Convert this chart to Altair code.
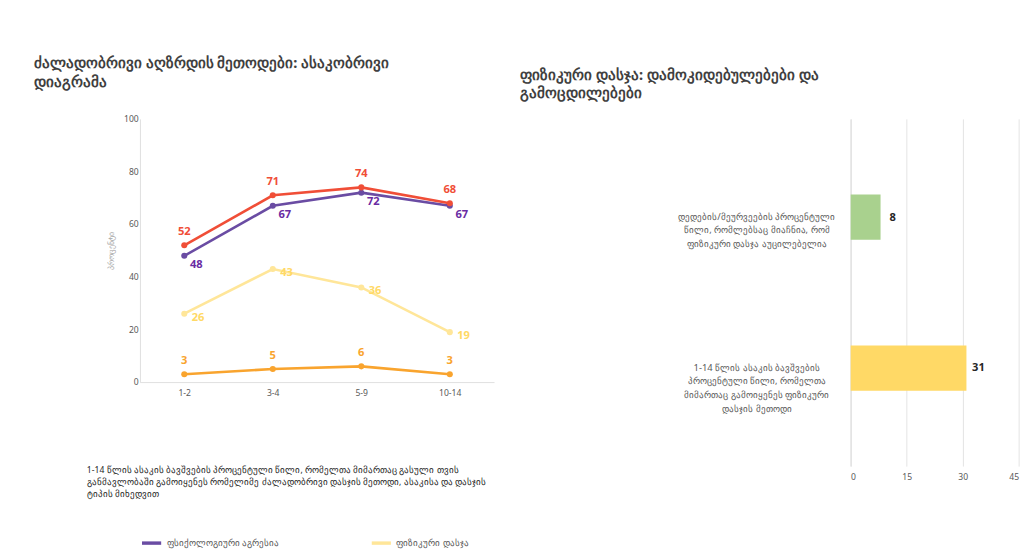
import altair as alt
import pandas as pd

ages = ["1-2", "3-4", "5-9", "10-14"]
series = ["ფსიქოლოგიური აგრესია", "ფიზიკური დასჯა", "მკაცრი ფიზიკური დასჯა", "ნებისმიერი ძალადობრივი მეთოდი"]
psych = [48, 67, 72, 67]
phys = [26, 43, 36, 19]
severe = [3, 5, 6, 3]
anyv = [52, 71, 74, 68]
colors = ["#6A4CA3", "#FFE699", "#F9A42E", "#F04E37"]
label_colors = ["#6A2CA3", "#FFD966", "#F9A42E", "#F04E37"]

bar_cats = ["დედების/მეურვეების პროცენტული\nწილი, რომლებსაც მიაჩნია, რომ\nფიზიკური დასჯა აუცილებელია",
            "1-14 წლის ასაკის ბავშვების\nპროცენტული წილი, რომელთა\nმიმართაც გამოიყენეს ფიზიკური\nდასჯის მეთოდი"]
bar_vals = [8, 31]
bar_colors = ["#A9D18E", "#FFD966"]

note_lines = ["1-14 წლის ასაკის ბავშვების პროცენტული წილი, რომელთა მიმართაც გასული თვის",
              "განმავლობაში გამოიყენეს რომელიმე ძალადობრივი დასჯის მეთოდი, ასაკისა და დასჯის",
              "ტიპის მიხედვით"]

rows = []
for s, vals in zip(series, [psych, phys, severe, anyv]):
    for a, v in zip(ages, vals):
        rows.append({"age": a, "series": s, "value": v})
df = pd.DataFrame(rows)

font = "Noto Sans"
xenc = alt.X("age:N", sort=ages, title=None,
             axis=alt.Axis(labelAngle=0, labelColor="#595959", domainColor="#d9d9d9", ticks=False, labelPadding=8))
yenc = alt.Y("value:Q", scale=alt.Scale(domain=[0, 100]), title="პროცენტი",
             axis=alt.Axis(values=[0, 20, 40, 60, 80, 100], grid=False, domainColor="#d9d9d9", ticks=False,
                           labelColor="#595959", titleColor="#a6a6a6", titleFontWeight="normal", titleFontSize=9, titlePadding=10))
cenc = alt.Color("series:N", sort=series, scale=alt.Scale(domain=series, range=colors),
                 legend=alt.Legend(orient="bottom", columns=2, title=None, symbolType="stroke", symbolStrokeWidth=4,
                                   symbolSize=500, labelFontSize=10, labelColor="#595959", columnPadding=110,
                                   rowPadding=10, labelLimit=300, offset=38))

base = alt.Chart(df).encode(x=xenc, y=yenc, color=cenc)
lines = base.mark_line(strokeWidth=3, point=alt.OverlayMarkDef(size=50, filled=True))

def lab(sname, dx, dy, col):
    return alt.Chart(df[df.series == sname]).mark_text(dx=dx, dy=dy, fontWeight="bold", fontSize=13, color=col, font=font).encode(
        x=alt.X("age:N", sort=ages), y="value:Q", text="value:Q")

note = alt.Chart(pd.DataFrame({"t": [note_lines]})).mark_text(
    align="left", baseline="top", fontSize=10, color="#262626", font=font, lineHeight=14).encode(
    x=alt.value(-62), y=alt.value(405), text="t")

left = alt.layer(lines,
                 lab(series[3], 0, -16, label_colors[3]),
                 lab(series[0], 14, 10, label_colors[0]),
                 lab(series[1], 16, 4, label_colors[1]),
                 lab(series[2], 0, -16, label_colors[2]),
                 note).properties(
    width=413, height=307,
    title=alt.TitleParams(["ძალადობრივი აღზრდის მეთოდები: ასაკობრივი", "დიაგრამა"], anchor="start", fontSize=17,
                          fontWeight="bold", color="#404040", font=font, offset=28, lineHeight=22, dx=-62))

bdf = pd.DataFrame({"cat": bar_cats, "value": bar_vals, "col": bar_colors})
bb = alt.Chart(bdf).encode(
    y=alt.Y("cat:N", sort=bar_cats, title=None, scale=alt.Scale(paddingInner=0.7, paddingOuter=0.5),
            axis=alt.Axis(labelExpr="split(datum.label, '\\n')", ticks=False, domainColor="#d9d9d9", labelAlign="center",
                          labelPadding=110, labelFontSize=11, labelColor="#595959", labelLimit=300, labelLineHeight=16)),
    x=alt.X("value:Q", scale=alt.Scale(domain=[0, 45]), title=None,
            axis=alt.Axis(values=[0, 15, 30, 45], grid=True, gridColor="#e0e0e0", domain=False, ticks=False,
                          labelColor="#595959", labelPadding=8)))
bars = bb.mark_bar().encode(color=alt.Color("col:N", scale=None, legend=None))
btxt = bb.mark_text(dx=14, fontWeight="bold", fontSize=13, color="#262626", font=font).encode(text="value:Q")
right = alt.layer(bars, btxt).properties(
    width=196, height=405,
    title=alt.TitleParams(["ფიზიკური დასჯა: დამოკიდებულებები და", "გამოცდილებები"], anchor="start", fontSize=17,
                          fontWeight="bold", color="#404040", font=font, offset=20, lineHeight=22, dx=-180))

chart = alt.hconcat(left, right, spacing=30).properties(padding={"left": 30, "top": 5, "right": 5, "bottom": 5}).configure(
    font=font).configure_view(stroke=None).configure_axis(labelFont=font, titleFont=font).configure_legend(labelFont=font)
chart.save("out.html", embed_options={"renderer": "svg", "actions": False})
